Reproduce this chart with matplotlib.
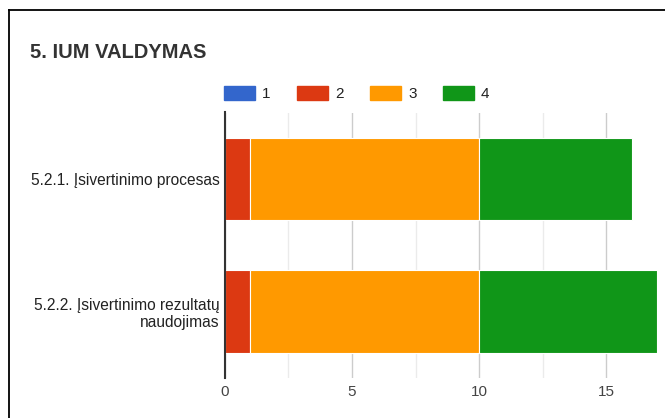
import matplotlib
matplotlib.use("Agg")
import matplotlib.pyplot as plt
from matplotlib.lines import Line2D
from matplotlib.patches import Patch

plt.rcParams['font.family'] = ['Liberation Sans', 'DejaVu Sans']

title = "5. IUM VALDYMAS"
categories = ["5.2.1. Įsivertinimo procesas", "5.2.2. Įsivertinimo rezultatų\nnaudojimas"]
series_names = ["1", "2", "3", "4"]
series_values = {
    "1": [0, 0],
    "2": [1, 1],
    "3": [9, 9],
    "4": [6, 7],
}
colors = ["#3366cc", "#dc3912", "#ff9900", "#109618"]
xticks = [0, 5, 10, 15]

fig = plt.figure(figsize=(6.65, 4.18), dpi=100)
ax = fig.add_axes([224.7 / 665, 1 - 378 / 418, (657.4 - 224.7) / 665, (378 - 112.5) / 418])

ypos = list(range(len(categories)))
left = [0] * len(categories)
for name, col in zip(series_names, colors):
    vals = series_values[name]
    ax.barh(ypos, vals, left=left, height=0.62, color=col, edgecolor="white", linewidth=0.8, zorder=3)
    left = [l + v for l, v in zip(left, vals)]

ax.set_xlim(0, 17)
ax.set_ylim(len(categories) - 0.5, -0.5)
ax.set_xticks(xticks)
ax.set_xticks([2.5, 7.5, 12.5], minor=True)
ax.set_yticks(ypos)
ax.set_yticklabels(categories, fontsize=11.2, color="#222222", linespacing=1.15,
                   multialignment="right")
ax.tick_params(axis="both", length=0, which="both")
ax.tick_params(axis="y", pad=3.5)
ax.tick_params(axis="x", pad=5, labelsize=11, labelcolor="#444444")
ax.grid(axis="x", which="major", color="#cccccc", linewidth=1, zorder=0)
ax.grid(axis="x", which="minor", color="#ebebeb", linewidth=1, zorder=0)
ax.grid(axis="y", visible=False)
for s in ["top", "right", "bottom"]:
    ax.spines[s].set_visible(False)
ax.spines["left"].set_color("#333333")
ax.spines["left"].set_linewidth(1.5)
ax.spines["left"].set_zorder(4)

handles = [Patch(facecolor=c, edgecolor=c) for c in colors]
fig.legend(handles, series_names, loc="upper left", bbox_to_anchor=(224 / 665, 1 - 86 / 418),
           ncol=4, frameon=False, fontsize=11, handlelength=2.03, handleheight=1.0,
           handletextpad=0.46, columnspacing=1.73, borderpad=0, borderaxespad=0,
           labelcolor="#222222")

fig.text(30 / 665, 1 - 52 / 418, title, fontsize=14.5, fontweight="bold", color="#333333",
         va="center", ha="left")

# frame border
fig.add_artist(Line2D([9 / 665, 1], [1 - 10 / 418, 1 - 10 / 418], color="black", linewidth=1.3,
                      transform=fig.transFigure))
fig.add_artist(Line2D([9 / 665, 9 / 665], [0, 1 - 10 / 418], color="black", linewidth=1.3,
                      transform=fig.transFigure))

fig.savefig("out.png", dpi=100)
